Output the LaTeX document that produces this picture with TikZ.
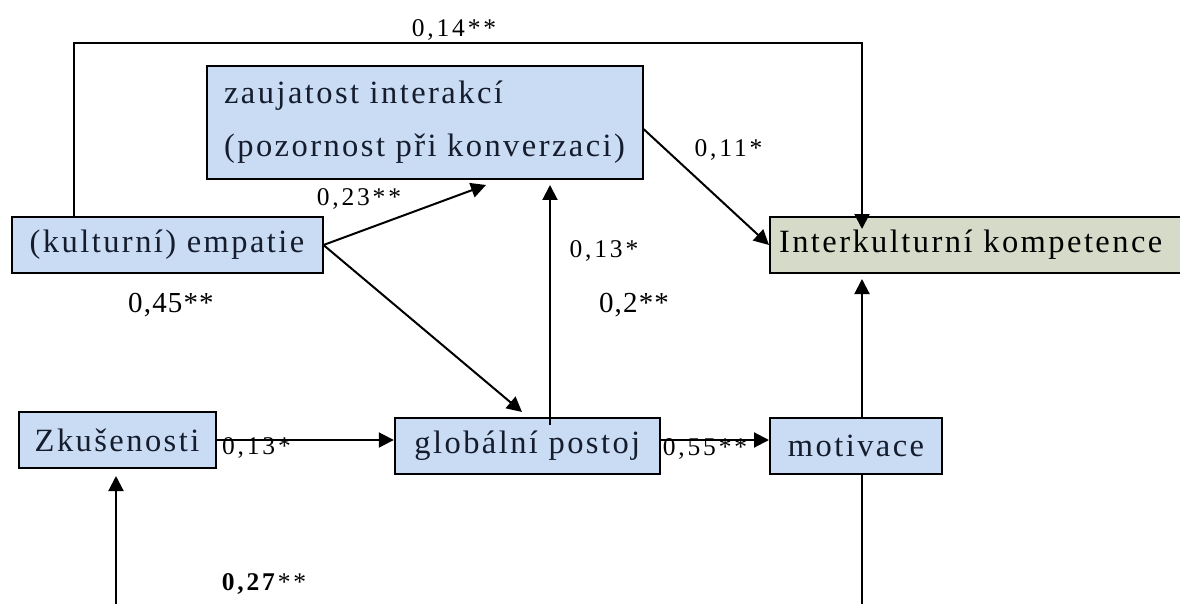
\documentclass[tikz,border=0pt]{standalone}
\usepackage{fontspec}
\setmainfont{Liberation Serif}[LetterSpace=7.5]
\newfontfamily\labfont{Liberation Serif}[LetterSpace=11]
\newfontfamily\labfontb{Liberation Serif}[LetterSpace=4]
\usetikzlibrary{arrows.meta}
\definecolor{boxblue}{RGB}{202,220,243}
\definecolor{boxgreen}{RGB}{214,218,200}
\definecolor{boxtext}{RGB}{20,28,45}
\begin{document}
\begin{tikzpicture}[x=1pt,y=-1pt,
  box/.style={draw=black, line width=2pt, fill=boxblue, inner sep=0pt, text=boxtext,
    font=\fontsize{32.5}{53}\selectfont},
  lab/.style={font=\labfont\fontsize{25.5}{30}\selectfont, inner sep=0pt, anchor=base},
  labbig/.style={font=\labfontb\fontsize{29}{32}\selectfont, inner sep=0pt, anchor=base},
  conn/.style={line width=2pt, -{Triangle[length=15pt,width=15pt]}},
  plainline/.style={line width=2pt}]
\useasboundingbox (0,0) rectangle (1180,604);

% nodes
\node[box, minimum width=436, minimum height=113, align=left] (zau) at (424.5,122.5)
  {zaujatost interakcí\\(pozornost při konverzaci)};
\node[box, minimum width=311, minimum height=56] (emp) at (167,245) {(kulturní) empatie};
\node[box, fill=boxgreen, text=black, minimum width=412, minimum height=56, text width=394, align=left] (ik) at (976,245)
  {Interkulturní kompetence};
\node[box, minimum width=197, minimum height=56] (zk) at (117,440) {Zkušenosti};
\node[box, minimum width=265, minimum height=56] (glob) at (527.3,446) {globální postoj};
\node[box, minimum width=172, minimum height=56] (mot) at (856,446) {motivace};

% helper coordinates
\coordinate (topL) at (74,43);
\coordinate (topR) at (862,43);
\coordinate (zauTip) at (486,185);
\coordinate (globTip) at (522,412);
\coordinate (vertZ) at (550,185);
\coordinate (vertG) at (550,425);
\coordinate (motBot) at (862,604);
\coordinate (zkBot) at (116,604);

% connectors
\draw[conn] (emp.north -| topL) -- (topL) -- (topR) -- ([yshift=-13pt]ik.north -| topR);
\draw[conn] (emp.east) -- (zauTip);
\draw[conn] (emp.east) -- (globTip);
\draw[conn] (vertG) -- (vertZ);
\draw[conn] ([yshift=-6.5pt]zau.east) -- (ik.west);
\draw[conn] (zk.east) -- (zk.east -| glob.west);
\draw[conn] ([yshift=6pt]glob.east) -- ([yshift=6pt]mot.west);
\draw[plainline] (motBot) -- (motBot |- mot.south);
\draw[conn] (motBot |- mot.north) -- ([yshift=-5pt]ik.south -| motBot);
\draw[conn] (zkBot) -- ([yshift=-7pt]zk.south -| zkBot);

% labels
\node[lab] (l14) at (454,37) {0,14**};
\node[lab] (l23) at (359,205) {0,23**};
\node[lab] (l11) at (728.5,157) {0,11*};
\node[lab] (l13a) at (604,257) {0,13*};
\node[labbig] (l45) at (171,312) {0,45**};
\node[labbig] (l2) at (634,312) {0,2**};
\node[lab] (l13b) at (256.5,454) {0,13*};
\node[lab] (l55) at (705,455) {0,55**};
\node[lab] (l27) at (264,590) {\textbf{0,27}**};
\end{tikzpicture}
\end{document}
